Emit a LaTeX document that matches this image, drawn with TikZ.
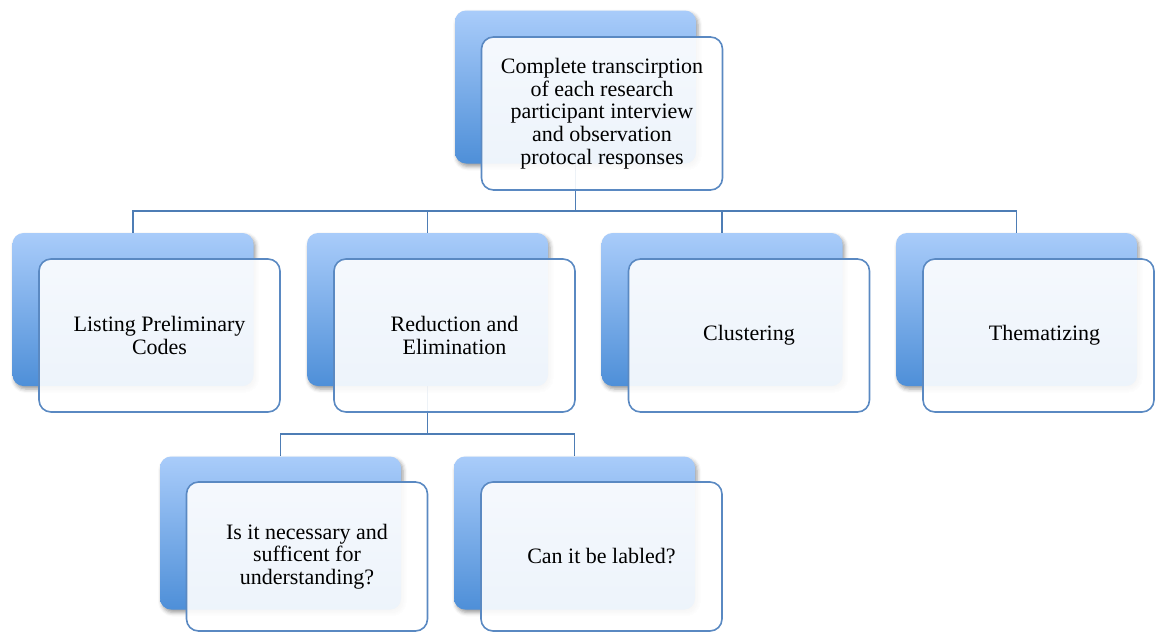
\documentclass[tikz,border=0pt]{standalone}
\usepackage{fontspec}
\setmainfont{Liberation Serif}
\usetikzlibrary{shadows.blur,backgrounds}

\definecolor{backtop}{HTML}{A9CCFA}
\definecolor{backbot}{HTML}{4E8FD8}
\definecolor{edgeblue}{HTML}{5A89C2}
\definecolor{linkblue}{HTML}{4E7DB5}

\tikzset{
  backbox/.style={rectangle, rounded corners=11pt, inner sep=0pt,
    minimum width=241pt, minimum height=153pt,
    top color=backtop, bottom color=backbot, draw=none,
    blur shadow={shadow xshift=2pt, shadow yshift=-3pt,
      shadow opacity=40, shadow blur radius=4pt}},
  frontbox/.style={rectangle, rounded corners=12pt, inner sep=0pt,
    minimum width=241pt, minimum height=153pt,
    draw=edgeblue, line width=1.6pt,
    fill=white, fill opacity=0.9, draw opacity=1, text opacity=1,
    align=center, font=\fontsize{22}{22.7}\selectfont},
  linkline/.style={draw=linkblue, line width=1.8pt}
}

\begin{document}
\begin{tikzpicture}[x=1pt, y=-1pt]
\useasboundingbox (0,0) rectangle (1155,632);

% top level
\node[backbox]  (rootB) at (575.5,87) {};
\node[frontbox] (rootF) at (602,113.5)
  {Complete transcirption\\of each research\\participant interview\\and observation\\protocal responses};

% second level
\node[backbox]  (c1B) at (133,309.5) {};
\node[frontbox] (c1F) at (159.5,335.5) {Listing Preliminary\\Codes};
\node[backbox]  (c2B) at (427.5,309.5) {};
\node[frontbox] (c2F) at (454.5,335.5) {Reduction and\\Elimination};
\node[backbox]  (c3B) at (722,309.5) {};
\node[frontbox] (c3F) at (749,335.5) {Clustering};
\node[backbox]  (c4B) at (1016.5,309.5) {};
\node[frontbox, minimum width=231pt] (c4F) at (1038.5,335.5) {\hspace*{12pt}Thematizing};

% third level
\node[backbox]  (g1B) at (280.5,533) {};
\node[frontbox, minimum height=149pt] (g1F) at (307,556.5)
  {Is it necessary and\\sufficent for\\understanding?};
\node[backbox]  (g2B) at (574.5,533) {};
\node[frontbox, minimum height=149pt] (g2F) at (601.5,556.5) {Can it be labled?};

% connectors
\coordinate (busA) at (0,211);
\coordinate (busB) at (0,434);
\begin{scope}[on background layer]
  \foreach \c in {c1B,c2B,c3B,c4B}
    \draw[linkline] (rootB.south) -- (rootB.south |- busA) -| (\c.north);
  \foreach \g in {g1B,g2B}
    \draw[linkline] (c2B.south) -- (c2B.south |- busB) -| (\g.north);
\end{scope}
\end{tikzpicture}
\end{document}
